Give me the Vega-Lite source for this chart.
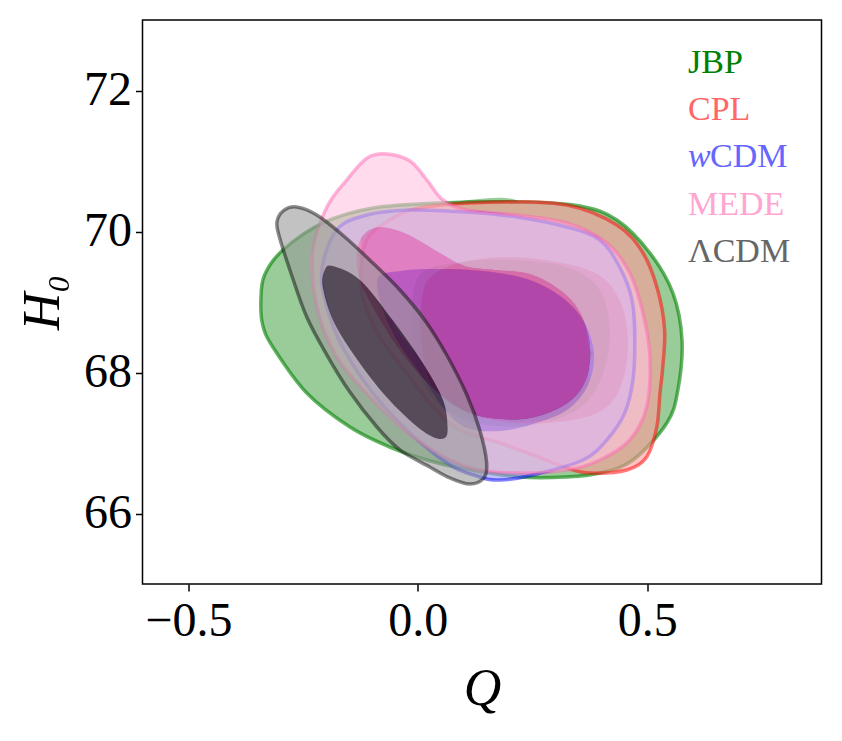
{
  "$schema": "https://vega.github.io/schema/vega-lite/v6.json",
  "width": 679,
  "height": 564,
  "autosize": {"type": "none"},
  "padding": {"left": 142.5, "top": 20, "right": 20.5, "bottom": 157},
  "background": "white",
  "config": {
    "view": {"stroke": "black", "strokeWidth": 1.5},
    "axis": {
      "grid": false,
      "domain": false,
      "tickColor": "black",
      "tickWidth": 1.5,
      "tickSize": 7,
      "labelColor": "black",
      "labelFont": "Liberation Serif",
      "labelFontSize": 48,
      "titleFont": "Liberation Serif",
      "titleFontSize": 52,
      "titleFontStyle": "italic",
      "titleFontWeight": "normal",
      "titleColor": "black"
    }
  },
  "datasets": {
    "contours": [
      {"m":"JBP","k":"o","s":0,"r":0,"q":0.222,"h":70.418},
      {"m":"JBP","k":"o","s":1,"r":1,"q":0.353,"h":70.362},
      {"m":"JBP","k":"o","s":2,"r":2,"q":0.434,"h":70.163},
      {"m":"JBP","k":"o","s":3,"r":3,"q":0.506,"h":69.695},
      {"m":"JBP","k":"o","s":4,"r":4,"q":0.556,"h":69.128},
      {"m":"JBP","k":"o","s":5,"r":5,"q":0.576,"h":68.461},
      {"m":"JBP","k":"o","s":6,"r":6,"q":0.567,"h":67.752},
      {"m":"JBP","k":"o","s":7,"r":7,"q":0.543,"h":67.284},
      {"m":"JBP","k":"o","s":8,"r":8,"q":0.469,"h":66.759},
      {"m":"JBP","k":"o","s":9,"r":9,"q":0.397,"h":66.574},
      {"m":"JBP","k":"o","s":10,"r":10,"q":0.325,"h":66.518},
      {"m":"JBP","k":"o","s":11,"r":11,"q":0.222,"h":66.518},
      {"m":"JBP","k":"o","s":12,"r":12,"q":0.092,"h":66.645},
      {"m":"JBP","k":"o","s":13,"r":13,"q":0.020,"h":66.759},
      {"m":"JBP","k":"o","s":14,"r":14,"q":-0.061,"h":66.943},
      {"m":"JBP","k":"o","s":15,"r":15,"q":-0.148,"h":67.227},
      {"m":"JBP","k":"o","s":16,"r":16,"q":-0.242,"h":67.709},
      {"m":"JBP","k":"o","s":17,"r":17,"q":-0.316,"h":68.362},
      {"m":"JBP","k":"o","s":18,"r":18,"q":-0.338,"h":68.674},
      {"m":"JBP","k":"o","s":19,"r":19,"q":-0.342,"h":69.028},
      {"m":"JBP","k":"o","s":20,"r":20,"q":-0.334,"h":69.383},
      {"m":"JBP","k":"o","s":21,"r":21,"q":-0.294,"h":69.738},
      {"m":"JBP","k":"o","s":22,"r":22,"q":-0.207,"h":70.121},
      {"m":"JBP","k":"o","s":23,"r":23,"q":-0.098,"h":70.333},
      {"m":"JBP","k":"o","s":24,"r":24,"q":0.048,"h":70.404},
      {"m":"JBP","k":"o","c":1,"r":400,"q":0.222,"h":70.418},
      {"m":"JBP","k":"i","s":0,"r":500,"q":0.222,"h":69.596},
      {"m":"JBP","k":"i","s":1,"r":999,"q":0.331,"h":69.482},
      {"m":"JBP","k":"i","s":2,"r":998,"q":0.397,"h":69.170},
      {"m":"JBP","k":"i","s":3,"r":997,"q":0.419,"h":68.603},
      {"m":"JBP","k":"i","s":4,"r":996,"q":0.403,"h":67.965},
      {"m":"JBP","k":"i","s":5,"r":995,"q":0.353,"h":67.496},
      {"m":"JBP","k":"i","s":6,"r":994,"q":0.255,"h":67.255},
      {"m":"JBP","k":"i","s":7,"r":993,"q":0.135,"h":67.270},
      {"m":"JBP","k":"i","s":8,"r":992,"q":0.048,"h":67.539},
      {"m":"JBP","k":"i","s":9,"r":991,"q":0.000,"h":68.035},
      {"m":"JBP","k":"i","s":10,"r":990,"q":-0.013,"h":68.745},
      {"m":"JBP","k":"i","s":11,"r":989,"q":0.004,"h":69.383},
      {"m":"JBP","k":"i","s":12,"r":988,"q":0.092,"h":69.567},
      {"m":"JBP","k":"i","c":1,"r":1001,"q":0.222,"h":69.596},
      {"m":"JBP","k":"o","c":1,"r":1002,"q":0.222,"h":70.418},

      {"m":"CPL","k":"o","s":0,"r":0,"q":0.251,"h":66.830},
      {"m":"CPL","k":"o","s":1,"r":1,"q":0.179,"h":67.000},
      {"m":"CPL","k":"o","s":2,"r":2,"q":0.092,"h":67.184},
      {"m":"CPL","k":"o","s":3,"r":3,"q":0.033,"h":67.511},
      {"m":"CPL","k":"o","s":4,"r":4,"q":-0.024,"h":67.993},
      {"m":"CPL","k":"o","s":5,"r":5,"q":-0.083,"h":68.504},
      {"m":"CPL","k":"o","s":6,"r":6,"q":-0.116,"h":68.986},
      {"m":"CPL","k":"o","s":7,"r":7,"q":-0.124,"h":69.411},
      {"m":"CPL","k":"o","s":8,"r":8,"q":-0.111,"h":69.879},
      {"m":"CPL","k":"o","s":9,"r":9,"q":-0.068,"h":70.135},
      {"m":"CPL","k":"o","s":10,"r":10,"q":0.004,"h":70.333},
      {"m":"CPL","k":"o","s":11,"r":11,"q":0.179,"h":70.418},
      {"m":"CPL","k":"o","s":12,"r":12,"q":0.325,"h":70.376},
      {"m":"CPL","k":"o","s":13,"r":13,"q":0.434,"h":70.092},
      {"m":"CPL","k":"o","s":14,"r":14,"q":0.491,"h":69.695},
      {"m":"CPL","k":"o","s":15,"r":15,"q":0.523,"h":69.170},
      {"m":"CPL","k":"o","s":16,"r":16,"q":0.538,"h":68.603},
      {"m":"CPL","k":"o","s":17,"r":17,"q":0.534,"h":68.078},
      {"m":"CPL","k":"o","s":18,"r":18,"q":0.528,"h":67.709},
      {"m":"CPL","k":"o","s":19,"r":19,"q":0.521,"h":67.227},
      {"m":"CPL","k":"o","s":20,"r":20,"q":0.499,"h":66.801},
      {"m":"CPL","k":"o","s":21,"r":21,"q":0.456,"h":66.617},
      {"m":"CPL","k":"o","s":22,"r":22,"q":0.375,"h":66.574},
      {"m":"CPL","k":"o","s":23,"r":23,"q":0.325,"h":66.645},
      {"m":"CPL","k":"o","c":1,"r":400,"q":0.251,"h":66.830},
      {"m":"CPL","k":"i","s":0,"r":500,"q":0.216,"h":67.284},
      {"m":"CPL","k":"i","s":1,"r":999,"q":0.107,"h":67.426},
      {"m":"CPL","k":"i","s":2,"r":998,"q":0.033,"h":67.794},
      {"m":"CPL","k":"i","s":3,"r":997,"q":0.009,"h":68.390},
      {"m":"CPL","k":"i","s":4,"r":996,"q":0.009,"h":69.028},
      {"m":"CPL","k":"i","s":5,"r":995,"q":0.033,"h":69.383},
      {"m":"CPL","k":"i","s":6,"r":994,"q":0.120,"h":69.596},
      {"m":"CPL","k":"i","s":7,"r":993,"q":0.244,"h":69.624},
      {"m":"CPL","k":"i","s":8,"r":992,"q":0.382,"h":69.426},
      {"m":"CPL","k":"i","s":9,"r":991,"q":0.440,"h":69.028},
      {"m":"CPL","k":"i","s":10,"r":990,"q":0.458,"h":68.461},
      {"m":"CPL","k":"i","s":11,"r":989,"q":0.447,"h":67.894},
      {"m":"CPL","k":"i","s":12,"r":988,"q":0.412,"h":67.511},
      {"m":"CPL","k":"i","s":13,"r":987,"q":0.338,"h":67.326},
      {"m":"CPL","k":"i","c":1,"r":1001,"q":0.216,"h":67.284},
      {"m":"CPL","k":"o","c":1,"r":1002,"q":0.251,"h":66.830},

      {"m":"wCDM","k":"o","s":0,"r":0,"q":0.473,"h":68.461},
      {"m":"wCDM","k":"o","s":1,"r":1,"q":0.469,"h":67.894},
      {"m":"wCDM","k":"o","s":2,"r":2,"q":0.451,"h":67.426},
      {"m":"wCDM","k":"o","s":3,"r":3,"q":0.412,"h":67.043},
      {"m":"wCDM","k":"o","s":4,"r":4,"q":0.360,"h":66.759},
      {"m":"wCDM","k":"o","s":5,"r":5,"q":0.251,"h":66.546},
      {"m":"wCDM","k":"o","s":6,"r":6,"q":0.179,"h":66.475},
      {"m":"wCDM","k":"o","s":7,"r":7,"q":0.135,"h":66.518},
      {"m":"wCDM","k":"o","s":8,"r":8,"q":0.070,"h":66.688},
      {"m":"wCDM","k":"o","s":9,"r":9,"q":-0.017,"h":67.142},
      {"m":"wCDM","k":"o","s":10,"r":10,"q":-0.098,"h":67.709},
      {"m":"wCDM","k":"o","s":11,"r":11,"q":-0.164,"h":68.362},
      {"m":"wCDM","k":"o","s":12,"r":12,"q":-0.198,"h":68.929},
      {"m":"wCDM","k":"o","s":13,"r":13,"q":-0.209,"h":69.454},
      {"m":"wCDM","k":"o","s":14,"r":14,"q":-0.177,"h":70.021},
      {"m":"wCDM","k":"o","s":15,"r":15,"q":-0.111,"h":70.234},
      {"m":"wCDM","k":"o","s":16,"r":16,"q":-0.017,"h":70.305},
      {"m":"wCDM","k":"o","s":17,"r":17,"q":0.107,"h":70.277},
      {"m":"wCDM","k":"o","s":18,"r":18,"q":0.216,"h":70.206},
      {"m":"wCDM","k":"o","s":19,"r":19,"q":0.325,"h":70.064},
      {"m":"wCDM","k":"o","s":20,"r":20,"q":0.397,"h":69.879},
      {"m":"wCDM","k":"o","s":21,"r":21,"q":0.440,"h":69.496},
      {"m":"wCDM","k":"o","s":22,"r":22,"q":0.467,"h":69.028},
      {"m":"wCDM","k":"o","c":1,"r":400,"q":0.473,"h":68.461},
      {"m":"wCDM","k":"i","s":0,"r":500,"q":0.384,"h":68.277},
      {"m":"wCDM","k":"i","s":1,"r":999,"q":0.371,"h":67.823},
      {"m":"wCDM","k":"i","s":2,"r":998,"q":0.325,"h":67.468},
      {"m":"wCDM","k":"i","s":3,"r":997,"q":0.251,"h":67.270},
      {"m":"wCDM","k":"i","s":4,"r":996,"q":0.179,"h":67.170},
      {"m":"wCDM","k":"i","s":5,"r":995,"q":0.107,"h":67.213},
      {"m":"wCDM","k":"i","s":6,"r":994,"q":0.059,"h":67.468},
      {"m":"wCDM","k":"i","s":7,"r":993,"q":0.015,"h":67.894},
      {"m":"wCDM","k":"i","s":8,"r":992,"q":-0.039,"h":68.390},
      {"m":"wCDM","k":"i","s":9,"r":991,"q":-0.076,"h":68.887},
      {"m":"wCDM","k":"i","s":10,"r":990,"q":-0.087,"h":69.340},
      {"m":"wCDM","k":"i","s":11,"r":989,"q":-0.039,"h":69.440},
      {"m":"wCDM","k":"i","s":12,"r":988,"q":0.033,"h":69.468},
      {"m":"wCDM","k":"i","s":13,"r":987,"q":0.142,"h":69.440},
      {"m":"wCDM","k":"i","s":14,"r":986,"q":0.238,"h":69.326},
      {"m":"wCDM","k":"i","s":15,"r":985,"q":0.310,"h":69.085},
      {"m":"wCDM","k":"i","s":16,"r":984,"q":0.360,"h":68.745},
      {"m":"wCDM","k":"i","c":1,"r":1001,"q":0.384,"h":68.277},
      {"m":"wCDM","k":"o","c":1,"r":1002,"q":0.473,"h":68.461},

      {"m":"MEDE","k":"o","s":0,"r":0,"q":-0.229,"h":69.738},
      {"m":"MEDE","k":"o","s":1,"r":1,"q":-0.198,"h":70.348},
      {"m":"MEDE","k":"o","s":2,"r":2,"q":-0.155,"h":70.730},
      {"m":"MEDE","k":"o","s":3,"r":3,"q":-0.111,"h":71.040},
      {"m":"MEDE","k":"o","s":4,"r":4,"q":-0.068,"h":71.100},
      {"m":"MEDE","k":"o","s":5,"r":5,"q":-0.017,"h":71.000},
      {"m":"MEDE","k":"o","s":6,"r":6,"q":0.020,"h":70.730},
      {"m":"MEDE","k":"o","s":7,"r":7,"q":0.055,"h":70.447},
      {"m":"MEDE","k":"o","s":8,"r":8,"q":0.107,"h":70.305},
      {"m":"MEDE","k":"o","s":9,"r":9,"q":0.216,"h":70.234},
      {"m":"MEDE","k":"o","s":10,"r":10,"q":0.325,"h":70.121},
      {"m":"MEDE","k":"o","s":11,"r":11,"q":0.412,"h":69.837},
      {"m":"MEDE","k":"o","s":12,"r":12,"q":0.462,"h":69.411},
      {"m":"MEDE","k":"o","s":13,"r":13,"q":0.491,"h":68.844},
      {"m":"MEDE","k":"o","s":14,"r":14,"q":0.506,"h":68.220},
      {"m":"MEDE","k":"o","s":15,"r":15,"q":0.499,"h":67.511},
      {"m":"MEDE","k":"o","s":16,"r":16,"q":0.462,"h":67.043},
      {"m":"MEDE","k":"o","s":17,"r":17,"q":0.397,"h":66.759},
      {"m":"MEDE","k":"o","s":18,"r":18,"q":0.325,"h":66.617},
      {"m":"MEDE","k":"o","s":19,"r":19,"q":0.216,"h":66.574},
      {"m":"MEDE","k":"o","s":20,"r":20,"q":0.107,"h":66.660},
      {"m":"MEDE","k":"o","s":21,"r":21,"q":-0.002,"h":67.043},
      {"m":"MEDE","k":"o","s":22,"r":22,"q":-0.098,"h":67.610},
      {"m":"MEDE","k":"o","s":23,"r":23,"q":-0.177,"h":68.220},
      {"m":"MEDE","k":"o","s":24,"r":24,"q":-0.220,"h":68.929},
      {"m":"MEDE","k":"o","c":1,"r":400,"q":-0.229,"h":69.738},
      {"m":"MEDE","k":"i","s":0,"r":500,"q":-0.133,"h":69.667},
      {"m":"MEDE","k":"i","s":1,"r":999,"q":-0.122,"h":69.922},
      {"m":"MEDE","k":"i","s":2,"r":998,"q":-0.094,"h":70.050},
      {"m":"MEDE","k":"i","s":3,"r":997,"q":-0.055,"h":70.035},
      {"m":"MEDE","k":"i","s":4,"r":996,"q":-0.007,"h":69.908},
      {"m":"MEDE","k":"i","s":5,"r":995,"q":0.048,"h":69.695},
      {"m":"MEDE","k":"i","s":6,"r":994,"q":0.102,"h":69.511},
      {"m":"MEDE","k":"i","s":7,"r":993,"q":0.168,"h":69.454},
      {"m":"MEDE","k":"i","s":8,"r":992,"q":0.244,"h":69.397},
      {"m":"MEDE","k":"i","s":9,"r":991,"q":0.310,"h":69.170},
      {"m":"MEDE","k":"i","s":10,"r":990,"q":0.353,"h":68.858},
      {"m":"MEDE","k":"i","s":11,"r":989,"q":0.375,"h":68.390},
      {"m":"MEDE","k":"i","s":12,"r":988,"q":0.366,"h":67.894},
      {"m":"MEDE","k":"i","s":13,"r":987,"q":0.323,"h":67.553},
      {"m":"MEDE","k":"i","s":14,"r":986,"q":0.244,"h":67.355},
      {"m":"MEDE","k":"i","s":15,"r":985,"q":0.157,"h":67.355},
      {"m":"MEDE","k":"i","s":16,"r":984,"q":0.092,"h":67.496},
      {"m":"MEDE","k":"i","s":17,"r":983,"q":0.026,"h":67.823},
      {"m":"MEDE","k":"i","s":18,"r":982,"q":-0.039,"h":68.319},
      {"m":"MEDE","k":"i","s":19,"r":981,"q":-0.094,"h":68.887},
      {"m":"MEDE","k":"i","s":20,"r":980,"q":-0.126,"h":69.312},
      {"m":"MEDE","k":"i","c":1,"r":1001,"q":-0.133,"h":69.667},
      {"m":"MEDE","k":"o","c":1,"r":1002,"q":-0.229,"h":69.738},

      {"m":"LCDM","k":"o","s":0,"r":0,"q":0.015,"h":68.745},
      {"m":"LCDM","k":"o","s":1,"r":1,"q":0.063,"h":68.248},
      {"m":"LCDM","k":"o","s":2,"r":2,"q":0.107,"h":67.681},
      {"m":"LCDM","k":"o","s":3,"r":3,"q":0.135,"h":67.184},
      {"m":"LCDM","k":"o","s":4,"r":4,"q":0.150,"h":66.730},
      {"m":"LCDM","k":"o","s":5,"r":5,"q":0.144,"h":66.504},
      {"m":"LCDM","k":"o","s":6,"r":6,"q":0.113,"h":66.418},
      {"m":"LCDM","k":"o","s":7,"r":7,"q":0.070,"h":66.504},
      {"m":"LCDM","k":"o","s":8,"r":8,"q":0.026,"h":66.660},
      {"m":"LCDM","k":"o","s":9,"r":9,"q":-0.039,"h":66.901},
      {"m":"LCDM","k":"o","s":10,"r":10,"q":-0.089,"h":67.227},
      {"m":"LCDM","k":"o","s":11,"r":11,"q":-0.148,"h":67.723},
      {"m":"LCDM","k":"o","s":12,"r":12,"q":-0.198,"h":68.248},
      {"m":"LCDM","k":"o","s":13,"r":13,"q":-0.242,"h":68.787},
      {"m":"LCDM","k":"o","s":14,"r":14,"q":-0.275,"h":69.383},
      {"m":"LCDM","k":"o","s":15,"r":15,"q":-0.301,"h":69.908},
      {"m":"LCDM","k":"o","s":16,"r":16,"q":-0.307,"h":70.135},
      {"m":"LCDM","k":"o","s":17,"r":17,"q":-0.292,"h":70.300},
      {"m":"LCDM","k":"o","s":18,"r":18,"q":-0.264,"h":70.348},
      {"m":"LCDM","k":"o","s":19,"r":19,"q":-0.220,"h":70.234},
      {"m":"LCDM","k":"o","s":20,"r":20,"q":-0.159,"h":69.922},
      {"m":"LCDM","k":"o","s":21,"r":21,"q":-0.098,"h":69.553},
      {"m":"LCDM","k":"o","s":22,"r":22,"q":-0.039,"h":69.170},
      {"m":"LCDM","k":"o","c":1,"r":400,"q":0.015,"h":68.745},
      {"m":"LCDM","k":"i","s":0,"r":500,"q":-0.055,"h":68.745},
      {"m":"LCDM","k":"i","s":1,"r":999,"q":0.011,"h":68.135},
      {"m":"LCDM","k":"i","s":2,"r":998,"q":0.055,"h":67.610},
      {"m":"LCDM","k":"i","s":3,"r":997,"q":0.065,"h":67.227},
      {"m":"LCDM","k":"i","s":4,"r":996,"q":0.059,"h":67.071},
      {"m":"LCDM","k":"i","s":5,"r":995,"q":0.033,"h":67.085},
      {"m":"LCDM","k":"i","s":6,"r":994,"q":-0.011,"h":67.284},
      {"m":"LCDM","k":"i","s":7,"r":993,"q":-0.076,"h":67.709},
      {"m":"LCDM","k":"i","s":8,"r":992,"q":-0.142,"h":68.277},
      {"m":"LCDM","k":"i","s":9,"r":991,"q":-0.185,"h":68.745},
      {"m":"LCDM","k":"i","s":10,"r":990,"q":-0.207,"h":69.213},
      {"m":"LCDM","k":"i","s":11,"r":989,"q":-0.203,"h":69.454},
      {"m":"LCDM","k":"i","s":12,"r":988,"q":-0.185,"h":69.511},
      {"m":"LCDM","k":"i","s":13,"r":987,"q":-0.126,"h":69.312},
      {"m":"LCDM","k":"i","c":1,"r":1001,"q":-0.055,"h":68.745},
      {"m":"LCDM","k":"o","c":1,"r":1002,"q":0.015,"h":68.745}
    ],
    "labels": [
      {"label": "JBP", "q": 0.589, "h": 72.39},
      {"label": "CPL", "q": 0.589, "h": 71.72},
      {"label": "CDM", "q": 0.637, "h": 71.06},
      {"label": "MEDE", "q": 0.589, "h": 70.38},
      {"label": "ΛCDM", "q": 0.589, "h": 69.71}
    ],
    "italic": [
      {"label": "w", "q": 0.589, "h": 71.06}
    ]
  },
  "data": {"name": "contours"},
  "encoding": {
    "x": {
      "field": "q",
      "type": "quantitative",
      "scale": {"domain": [-0.6, 0.88], "nice": false, "zero": false},
      "axis": {"values": [-0.5, 0, 0.5], "format": ".1f", "title": "Q", "labelPadding": 6, "titlePadding": 18}
    },
    "y": {
      "field": "h",
      "type": "quantitative",
      "scale": {"domain": [65, 73], "nice": false, "zero": false},
      "axis": {"values": [66, 68, 70, 72], "format": "d", "title": "H₀", "labelPadding": 4, "titlePadding": 14}
    }
  },
  "layer": [
    {"transform": [{"filter": "datum.m === 'JBP'"}], "mark": {"type": "line", "interpolate": "cardinal", "fill": "#99cc99", "fillOpacity": 1, "strokeWidth": 0, "strokeOpacity": 0}, "encoding": {"order": {"field": "r", "type": "quantitative"}}},
    {"transform": [{"filter": "datum.m === 'JBP' && datum.k === 'i' && !datum.c"}], "mark": {"type": "line", "interpolate": "cardinal-closed", "fill": "#008000", "fillOpacity": 1, "strokeWidth": 0, "strokeOpacity": 0}, "encoding": {"order": {"field": "s", "type": "quantitative"}}},
    {"transform": [{"filter": "datum.m === 'JBP' && datum.k === 'o' && !datum.c"}], "mark": {"type": "line", "interpolate": "cardinal-closed", "stroke": "#008000", "strokeOpacity": 0.6, "strokeWidth": 3.5}, "encoding": {"order": {"field": "s", "type": "quantitative"}}},

    {"transform": [{"filter": "datum.m === 'CPL'"}], "mark": {"type": "line", "interpolate": "cardinal", "fill": "#ff9999", "fillOpacity": 0.6, "strokeWidth": 0, "strokeOpacity": 0}, "encoding": {"order": {"field": "r", "type": "quantitative"}}},
    {"transform": [{"filter": "datum.m === 'CPL' && datum.k === 'i' && !datum.c"}], "mark": {"type": "line", "interpolate": "cardinal-closed", "fill": "#ff0000", "fillOpacity": 0.6, "strokeWidth": 0, "strokeOpacity": 0}, "encoding": {"order": {"field": "s", "type": "quantitative"}}},
    {"transform": [{"filter": "datum.m === 'CPL' && datum.k === 'o' && !datum.c"}], "mark": {"type": "line", "interpolate": "cardinal-closed", "stroke": "#ff0000", "strokeOpacity": 0.5, "strokeWidth": 3.5}, "encoding": {"order": {"field": "s", "type": "quantitative"}}},

    {"transform": [{"filter": "datum.m === 'wCDM'"}], "mark": {"type": "line", "interpolate": "cardinal", "fill": "#9999ff", "fillOpacity": 0.6, "strokeWidth": 0, "strokeOpacity": 0}, "encoding": {"order": {"field": "r", "type": "quantitative"}}},
    {"transform": [{"filter": "datum.m === 'wCDM' && datum.k === 'i' && !datum.c"}], "mark": {"type": "line", "interpolate": "cardinal-closed", "fill": "#0000ff", "fillOpacity": 0.6, "strokeWidth": 0, "strokeOpacity": 0}, "encoding": {"order": {"field": "s", "type": "quantitative"}}},
    {"transform": [{"filter": "datum.m === 'wCDM' && datum.k === 'o' && !datum.c"}], "mark": {"type": "line", "interpolate": "cardinal-closed", "stroke": "#0000ff", "strokeOpacity": 0.5, "strokeWidth": 3.5}, "encoding": {"order": {"field": "s", "type": "quantitative"}}},

    {"transform": [{"filter": "datum.m === 'MEDE'"}], "mark": {"type": "line", "interpolate": "cardinal", "fill": "#ffc3e1", "fillOpacity": 0.6, "strokeWidth": 0, "strokeOpacity": 0}, "encoding": {"order": {"field": "r", "type": "quantitative"}}},
    {"transform": [{"filter": "datum.m === 'MEDE' && datum.k === 'i' && !datum.c"}], "mark": {"type": "line", "interpolate": "cardinal-closed", "fill": "#ff69b4", "fillOpacity": 0.6, "strokeWidth": 0, "strokeOpacity": 0}, "encoding": {"order": {"field": "s", "type": "quantitative"}}},
    {"transform": [{"filter": "datum.m === 'MEDE' && datum.k === 'o' && !datum.c"}], "mark": {"type": "line", "interpolate": "cardinal-closed", "stroke": "#ff69b4", "strokeOpacity": 0.5, "strokeWidth": 3.5}, "encoding": {"order": {"field": "s", "type": "quantitative"}}},

    {"transform": [{"filter": "datum.m === 'LCDM'"}], "mark": {"type": "line", "interpolate": "cardinal", "fill": "#999999", "fillOpacity": 0.6, "strokeWidth": 0, "strokeOpacity": 0}, "encoding": {"order": {"field": "r", "type": "quantitative"}}},
    {"transform": [{"filter": "datum.m === 'LCDM' && datum.k === 'i' && !datum.c"}], "mark": {"type": "line", "interpolate": "cardinal-closed", "fill": "#000000", "fillOpacity": 0.6, "strokeWidth": 0, "strokeOpacity": 0}, "encoding": {"order": {"field": "s", "type": "quantitative"}}},
    {"transform": [{"filter": "datum.m === 'LCDM' && datum.k === 'o' && !datum.c"}], "mark": {"type": "line", "interpolate": "cardinal-closed", "stroke": "#000000", "strokeOpacity": 0.45, "strokeWidth": 3.5}, "encoding": {"order": {"field": "s", "type": "quantitative"}}},

    {
      "data": {"name": "labels"},
      "mark": {"type": "text", "align": "left", "baseline": "middle", "font": "Liberation Serif", "fontSize": 34},
      "encoding": {
        "text": {"field": "label"},
        "color": {
          "field": "label",
          "type": "nominal",
          "scale": {"domain": ["JBP", "CPL", "w", "CDM", "MEDE", "ΛCDM"], "range": ["#008000", "#ff6666", "#6666ff", "#6666ff", "#ffa5d2", "#666666"]},
          "legend": null
        }
      }
    },
    {
      "data": {"name": "italic"},
      "mark": {"type": "text", "align": "left", "baseline": "middle", "font": "Liberation Serif", "fontStyle": "italic", "fontSize": 34},
      "encoding": {
        "text": {"field": "label"},
        "color": {"field": "label", "type": "nominal", "legend": null}
      }
    }
  ]
}
